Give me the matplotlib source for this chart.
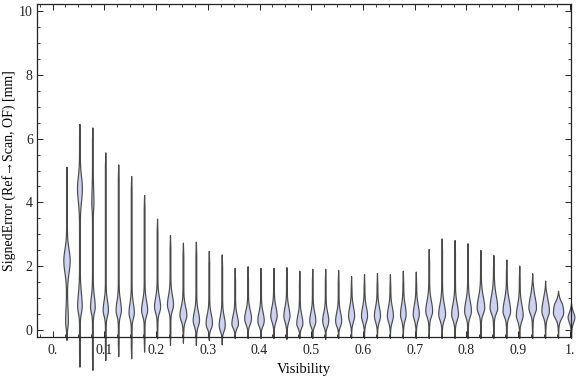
import numpy as np
import matplotlib
matplotlib.use("Agg")
import matplotlib.pyplot as plt
from matplotlib.ticker import FixedLocator, MultipleLocator

plt.rcParams['font.family'] = ['Liberation Serif', 'DejaVu Serif']

# bin centres of the visibility bins
positions = [0.027, 0.052, 0.077, 0.102, 0.127, 0.152, 0.177, 0.202, 0.227, 0.252,
             0.277, 0.302, 0.327, 0.352, 0.377, 0.402, 0.427, 0.452, 0.477, 0.502,
             0.527, 0.552, 0.577, 0.602, 0.627, 0.652, 0.677, 0.702, 0.727, 0.752,
             0.777, 0.802, 0.827, 0.852, 0.877, 0.902, 0.927, 0.952, 0.977, 1.002]

# max / min signed error per bin [mm]
highs = [5.12, 6.46, 6.35, 5.57, 5.19, 4.83, 4.23, 3.49, 2.98, 2.74,
         2.77, 2.48, 2.37, 1.95, 2.00, 1.95, 1.95, 1.97, 1.86, 1.92,
         1.92, 1.88, 1.69, 1.75, 1.79, 1.75, 1.86, 1.83, 2.54, 2.87,
         2.82, 2.72, 2.51, 2.35, 2.21, 2.02, 1.78, 1.55, 1.23, 0.84]
lows = [-0.31, -1.15, -1.25, -0.94, -0.82, -0.89, -0.68, -0.26, -0.47, -0.40,
        -0.47, -0.31, -0.45, -0.25, -0.25, -0.25, -0.25, -0.28, -0.25, -0.25,
        -0.28, -0.25, -0.25, -0.25, -0.25, -0.25, -0.25, -0.25, -0.25, -0.25,
        -0.25, -0.25, -0.25, -0.25, -0.25, -0.25, -0.25, -0.25, -0.25, -0.25]

# main density peak: location and relative density
modes = [2.19, 4.45, 0.73, 0.63, 0.63, 0.55, 0.63, 0.73, 0.80, 0.47,
         0.31, 0.22, 0.16, 0.21, 0.37, 0.31, 0.45, 0.45, 0.22, 0.30,
         0.30, 0.30, 0.45, 0.45, 0.45, 0.45, 0.50, 0.50, 0.60, 0.50,
         0.50, 0.60, 0.70, 0.70, 0.60, 0.47, 0.70, 0.60, 0.55, 0.42]
peaks = [3.7, 2.7, 2.6, 3.0, 3.0, 3.0, 3.5, 3.5, 3.5, 4.0,
         3.7, 3.7, 3.5, 3.8, 4.0, 3.7, 3.7, 3.5, 3.5, 3.5,
         3.5, 3.5, 3.5, 3.5, 3.5, 3.5, 3.2, 3.5, 4.0, 4.0,
         4.0, 4.0, 4.5, 4.5, 4.5, 4.0, 4.5, 4.5, 6.3, 4.0]
spreads = [0.38, 0.40, 0.35, 0.32, 0.32, 0.32, 0.32, 0.32, 0.32, 0.30,
           0.30, 0.30, 0.30, 0.28, 0.28, 0.28, 0.30, 0.30, 0.28, 0.28,
           0.28, 0.28, 0.30, 0.30, 0.30, 0.30, 0.32, 0.32, 0.35, 0.35,
           0.35, 0.35, 0.38, 0.42, 0.38, 0.35, 0.38, 0.38, 0.40, 0.30]

# secondary peak (only the first bins)
modes2 = [0.30, 0.75, 4.00]
peaks2 = [1.3, 2.5, 0.9]

fig = plt.figure(figsize=(5.76, 3.77), dpi=100)
ax = fig.add_axes([37 / 576, 40 / 377, 534 / 576, 333 / 377])

px = 1.0 / 517.5      # one pixel in x data units
fill = '#ccd2f3'
edge = '#4a4a4a'

for i, x in enumerate(positions):
    lo, hi = lows[i], highs[i]
    y = np.linspace(lo, hi, 600)
    m = modes[i]
    s = np.where(y < m, 0.17 if i > 1 else spreads[i], spreads[i] * 0.9)
    w = peaks[i] * np.exp(-0.5 * ((y - m) / s) ** 2)
    if i < len(modes2):
        m2 = modes2[i]
        s2 = np.where(y < m2, 0.2, 0.4)
        w = w + peaks2[i] * np.exp(-0.5 * ((y - m2) / s2) ** 2)
    taper = np.clip(np.minimum(y - lo, hi - y) / 0.4, 0, 1)
    w = (0.75 * w + 0.4) * taper * px
    ax.fill_betweenx(y, x - w, x + w, facecolor=fill, edgecolor=edge,
                     linewidth=0.85, clip_on=False, zorder=2)

ax.set_xlim(-0.03, 1.002)
ax.set_ylim(-0.22, 10.22)

xt = [0.0, 0.1, 0.2, 0.3, 0.4, 0.5, 0.6, 0.7, 0.8, 0.9, 1.0]
xl = ['0.', '0.1', '0.2', '0.3', '0.4', '0.5', '0.6', '0.7', '0.8', '0.9', '1.']
ax.xaxis.set_major_locator(FixedLocator(xt))
ax.set_xticklabels(xl)
ax.xaxis.set_minor_locator(MultipleLocator(0.025))
ax.yaxis.set_major_locator(MultipleLocator(2))
ax.yaxis.set_minor_locator(MultipleLocator(0.5))

ax.tick_params(which='both', direction='in', top=True, right=True,
               colors='#222222', labelsize=10)
ax.tick_params(which='major', length=4.2, width=0.7)
ax.tick_params(which='minor', length=2.3, width=0.6)
ax.tick_params(axis='x', pad=5)
ax.tick_params(axis='y', pad=3)
for sp in ax.spines.values():
    sp.set_color('#222222')
    sp.set_linewidth(0.9)
    sp.set_zorder(3)

ax.set_xlabel('Visibility', fontsize=10.5, labelpad=4)
ax.set_ylabel('SignedError (Ref\u2192Scan, OF) [mm]', fontsize=10)
ax.yaxis.set_label_coords(-0.04, 0.5)

fig.savefig('out.png', dpi=100)
